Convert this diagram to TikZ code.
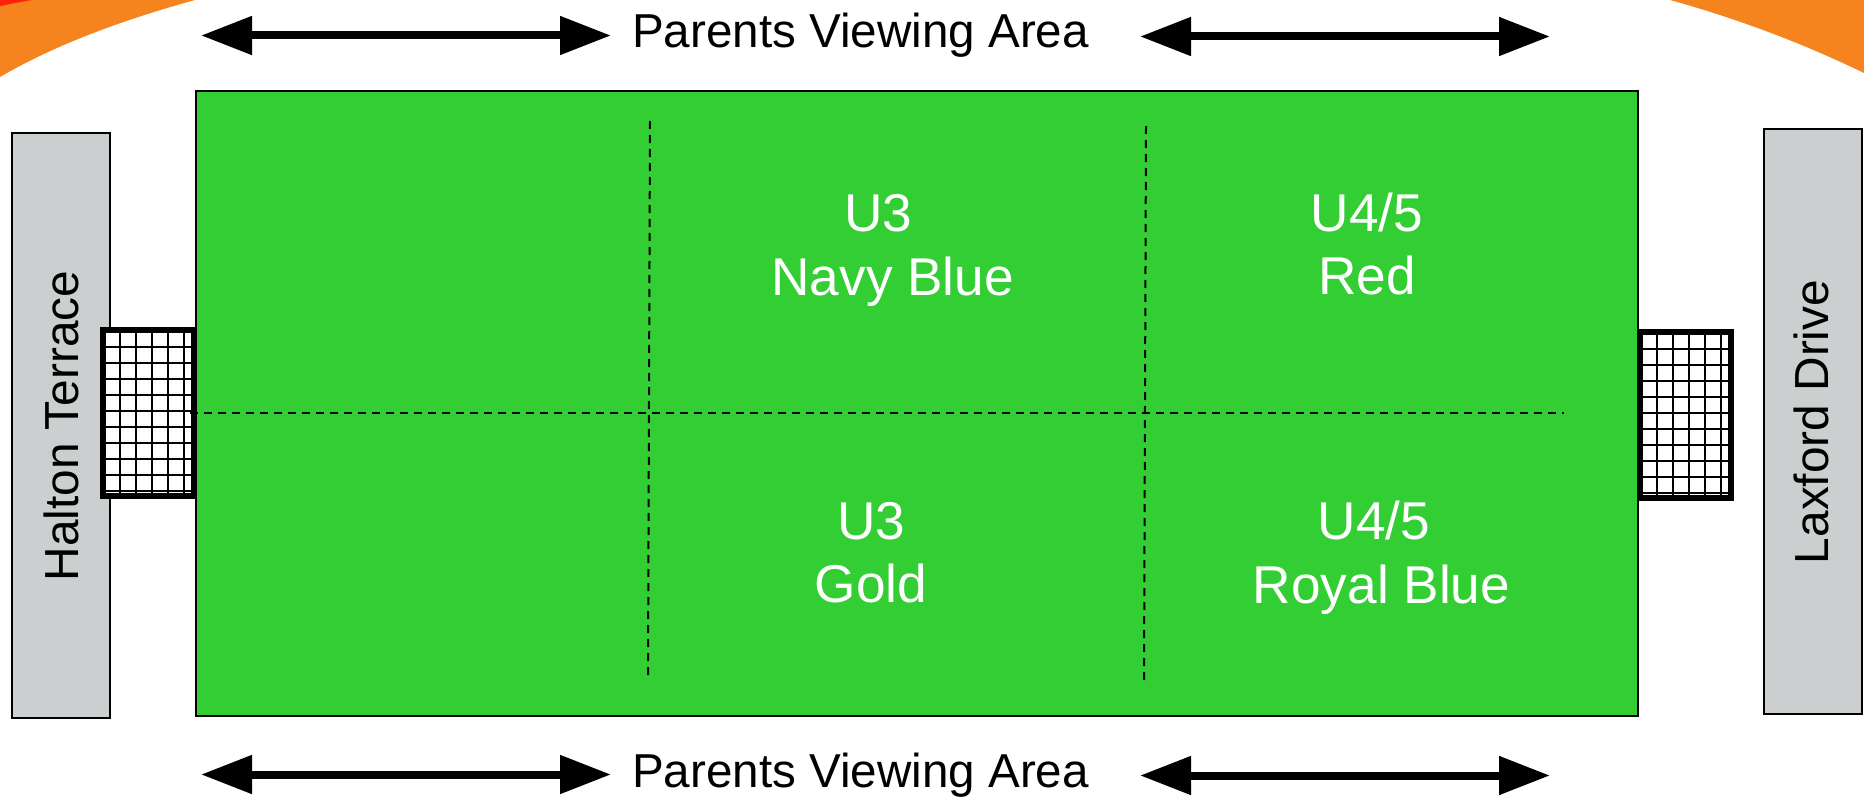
\documentclass[tikz,border=0pt]{standalone}
\usepackage{fontspec}
\setmainfont{Liberation Sans}
\usetikzlibrary{arrows.meta}
\definecolor{fieldgreen}{HTML}{33CE33}
\definecolor{roadgrey}{HTML}{CCCFCF}
\definecolor{swoosh}{HTML}{F6841E}
\tikzset{
  field/.style={draw=black,line width=2pt,fill=fieldgreen,inner sep=0pt,minimum width=1442.5pt,minimum height=624.5pt},
  road/.style={draw=black,line width=2.2pt,fill=roadgrey,inner sep=0pt,minimum width=97.7pt,minimum height=585.3pt},
  viewlabel/.style={inner sep=0pt,font=\fontsize{47.6}{57}\selectfont,anchor=base},
  roadlabel/.style={rotate=90,inner sep=0pt,font=\fontsize{47.8}{56}\selectfont},
  agelabel/.style={inner sep=0pt,text=white,align=center,font=\fontsize{53.2}{63.5}\selectfont},
  viewarrow/.style={line width=8pt,{Triangle[length=51pt,width=37pt,sep=0pt]}-{Triangle[length=51pt,width=37pt,sep=0pt]}},
  divider/.style={line width=2pt,dash pattern=on 8pt off 6pt},
  gateframe/.style={draw=black,line width=6pt,fill=white,inner sep=0pt,minimum width=91pt,minimum height=166pt},
  gateline/.style={black,line width=2pt}
}
\begin{document}
\begin{tikzpicture}[x=1pt,y=-1pt]
\useasboundingbox (0,0) rectangle (1864,800);
% corner swooshes
\fill[swoosh] (0,0) -- (195,0) .. controls (130,18) and (60,42) .. (0,77) -- cycle;
\fill[swoosh] (1670,0) -- (1864,0) -- (1864,73) .. controls (1800,42) and (1735,18) .. (1670,0) -- cycle;
\fill[red!75!swoosh] (0,0) -- (32,0) .. controls (20,2) and (10,4) .. (0,6) -- cycle;
% pitch and roads
\node[road] (halton) at (60.85,425.65) {};
\node[road] (laxford) at (1812.85,421.35) {};
\node[field] (pitch) at (916.75,403.25) {};
\node[roadlabel] (haltonlabel) at (61,426) {Halton Terrace};
\node[roadlabel] (laxfordlabel) at (1811.5,422) {Laxford Drive};
% goals
\node[gateframe] (gateL) at (148.5,412.85) {};
\foreach \gx in {120,136,152,168,184} \draw[gateline] (\gx,332) -- (\gx,493);
\foreach \gy in {346.7,362.7,378.7,394.7,410.7,426.7,442.7,458.7,474.7,490.7} \draw[gateline] (105,\gy) -- (192,\gy);
\node[gateframe,fill=none] (gateLb) at (gateL.center) {};
\node[gateframe] (gateR) at (1685.5,414.85) {};
\foreach \gx in {1656.7,1672.7,1688.7,1704.7,1720.7} \draw[gateline] (\gx,334) -- (\gx,495);
\foreach \gy in {349.3,365.3,381.3,397.3,413.3,429.3,445.3,461.3,477.3,493.3} \draw[gateline] (1642,\gy) -- (1729,\gy);
\node[gateframe,fill=none] (gateRb) at (gateR.center) {};
% dividers
\coordinate (hA) at (190,412.7); \coordinate (hB) at (1564,412.7);
\coordinate (vAt) at (650,121); \coordinate (vAb) at (648,678);
\coordinate (vBt) at (1146,126); \coordinate (vBb) at (1144,681);
\draw[divider] (hA) -- (hB);
\draw[divider] (vAt) -- (vAb);
\draw[divider] (vBt) -- (vBb);
% labels
\node[agelabel] (navy) at (892.7,250.5) {U3\rule{28.4pt}{0pt}\\Navy Blue};
\node[agelabel] (red) at (1367,244) {U4/5\\Red};
\node[agelabel] (gold) at (871,552.5) {U3\\Gold};
\node[agelabel] (royal) at (1381.5,557.5) {U4/5\rule{15pt}{0pt}\\Royal Blue};
\node[viewlabel] (viewtop) at (860.5,48) {Parents Viewing Area};
\node[viewlabel] (viewbot) at (860.5,787) {Parents Viewing Area};
% arrows
\coordinate (a1) at (201,35.5); \coordinate (a2) at (611,35.5);
\coordinate (a3) at (1140,36.5); \coordinate (a4) at (1550,36.5);
\coordinate (a5) at (201,774.5); \coordinate (a6) at (611,774.5);
\coordinate (a7) at (1140,775.5); \coordinate (a8) at (1550,775.5);
\draw[viewarrow] (a1) -- (a2);
\draw[viewarrow] (a3) -- (a4);
\draw[viewarrow] (a5) -- (a6);
\draw[viewarrow] (a7) -- (a8);
\end{tikzpicture}
\end{document}
